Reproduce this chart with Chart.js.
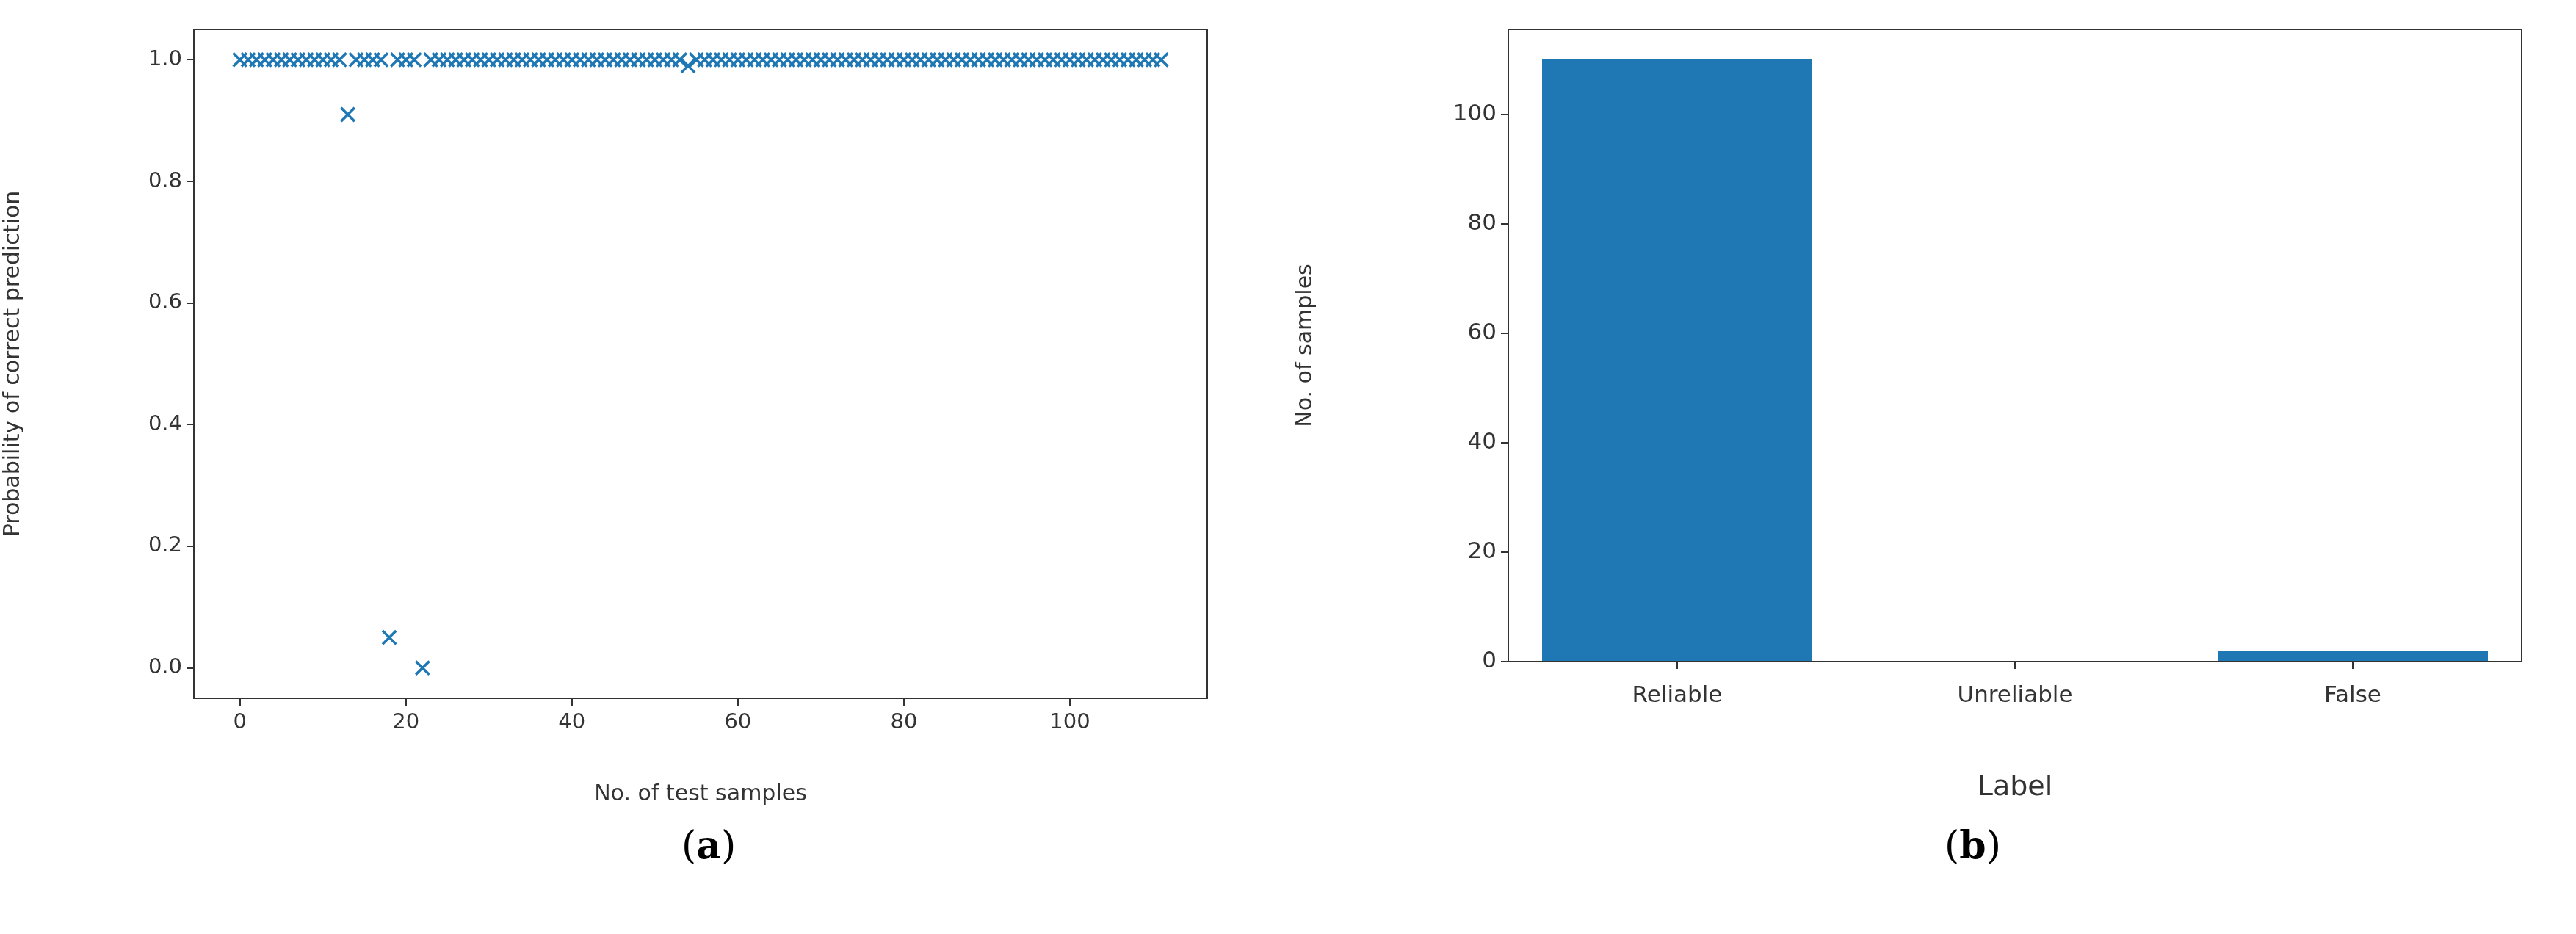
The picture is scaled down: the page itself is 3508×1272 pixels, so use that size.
<!DOCTYPE html>
<html>
<head>
<meta charset="utf-8">
<script src="https://cdn.jsdelivr.net/npm/chart.js@4"></script>
<style>
  body { margin: 0; background: #fff; width: 3508px; height: 1272px; position: relative; overflow: hidden; }
  canvas { position: absolute; }
  .cap { position: absolute; top: 1120px; font-family: "DejaVu Serif", "Liberation Serif", serif; font-size: 52px; }
</style>
</head>
<body>
<canvas id="scatterChart" width="1700" height="1100" style="left:0;top:0"></canvas>
<canvas id="barChart" width="1758" height="1100" style="left:1750px;top:0"></canvas>
<div class="cap" style="left:928px">(<b>a</b>)</div>
<div class="cap" style="left:2648px">(<b>b</b>)</div>
<script>
// probability of correct prediction per test sample (0..111)
const probValues = [
    1, 1, 1, 1, 1, 1, 1, 1, 1, 1, 1, 1, 1, 0.91, 1, 1, 1, 1, 0.05, 1,
    1, 1, 0, 1, 1, 1, 1, 1, 1, 1, 1, 1, 1, 1, 1, 1, 1, 1, 1, 1,
    1, 1, 1, 1, 1, 1, 1, 1, 1, 1, 1, 1, 1, 1, 0.99, 1, 1, 1, 1, 1,
    1, 1, 1, 1, 1, 1, 1, 1, 1, 1, 1, 1, 1, 1, 1, 1, 1, 1, 1, 1,
    1, 1, 1, 1, 1, 1, 1, 1, 1, 1, 1, 1, 1, 1, 1, 1, 1, 1, 1, 1,
    1, 1, 1, 1, 1, 1, 1, 1, 1, 1, 1, 1
];
const xTicks = [0, 20, 40, 60, 80, 100];
const yTicks = [0.0, 0.2, 0.4, 0.6, 0.8, 1.0];

const barLabels = ["Reliable", "Unreliable", "False"];
const barValues = [110, 0, 2];
const barTicks = [0, 20, 40, 60, 80, 100];

const blue = "#1f77b4";
const ink = "#333";
const font = "DejaVu Sans";

// draws the full box around the plot area
const frame = {
    id: "frame",
    afterDraw(chart) {
        const a = chart.chartArea, c = chart.ctx;
        c.save();
        c.strokeStyle = ink;
        c.lineWidth = 2;
        c.strokeRect(a.left, a.top, a.right - a.left, a.bottom - a.top);
        c.restore();
    }
};

function keepOnly(list) {
    return axis => { axis.ticks = list.map(v => ({ value: v })); };
}

const tickGrid = { drawOnChartArea: false, drawTicks: true, tickLength: 10, color: ink, lineWidth: 2 };

new Chart(document.getElementById("scatterChart"), {
    type: "scatter",
    data: {
        datasets: [{
            data: probValues.map((v, i) => ({ x: i, y: v })),
            pointStyle: "crossRot",
            radius: 13,
            borderWidth: 3.5,
            borderColor: blue,
            backgroundColor: blue
        }]
    },
    options: {
        responsive: false,
        animation: false,
        devicePixelRatio: 1,
        layout: { padding: { top: 40, right: 56 } },
        plugins: { legend: { display: false }, tooltip: { enabled: false } },
        scales: {
            x: {
                type: "linear", min: -5.55, max: 116.55,
                afterBuildTicks: keepOnly(xTicks),
                afterFit: s => { s.height = 149; },
                grid: tickGrid,
                border: { color: ink, width: 2 },
                ticks: { font: { family: font, size: 29 }, color: ink, padding: 6, maxRotation: 0 },
                title: { display: true, text: "No. of test samples", font: { family: font, size: 30 }, color: ink, padding: 0 }
            },
            y: {
                min: -0.05, max: 1.05,
                afterBuildTicks: keepOnly(yTicks),
                afterFit: s => { s.width = 264; },
                grid: tickGrid,
                border: { color: ink, width: 2 },
                ticks: { font: { family: font, size: 29 }, color: ink, padding: 6, callback: v => v.toFixed(1) },
                title: { display: true, text: "Probability of correct prediction", font: { family: font, size: 30 }, color: ink, padding: 0 }
            }
        }
    },
    plugins: [frame]
});

new Chart(document.getElementById("barChart"), {
    type: "bar",
    data: {
        labels: barLabels,
        datasets: [{
            data: barValues,
            backgroundColor: blue,
            barPercentage: 1,
            categoryPercentage: 0.8
        }]
    },
    options: {
        responsive: false,
        animation: false,
        devicePixelRatio: 1,
        layout: { padding: { top: 40, right: 74 } },
        plugins: { legend: { display: false }, tooltip: { enabled: false } },
        scales: {
            x: {
                afterFit: s => { s.height = 199; },
                grid: Object.assign({}, tickGrid, { offset: false }),
                border: { color: ink, width: 2 },
                ticks: { font: { family: font, size: 31 }, color: ink, padding: 18 },
                title: { display: true, text: "Label", font: { family: font, size: 38 }, color: ink, padding: { top: 20 } }
            },
            y: {
                min: 0, max: 115.5,
                afterBuildTicks: keepOnly(barTicks),
                afterFit: s => { s.width = 304; },
                grid: tickGrid,
                border: { color: ink, width: 2 },
                ticks: { font: { family: font, size: 31 }, color: ink, padding: 6 },
                title: { display: true, text: "No. of samples", font: { family: font, size: 30 }, color: ink, padding: 10 }
            }
        }
    },
    plugins: [frame]
});
</script>
</body>
</html>
